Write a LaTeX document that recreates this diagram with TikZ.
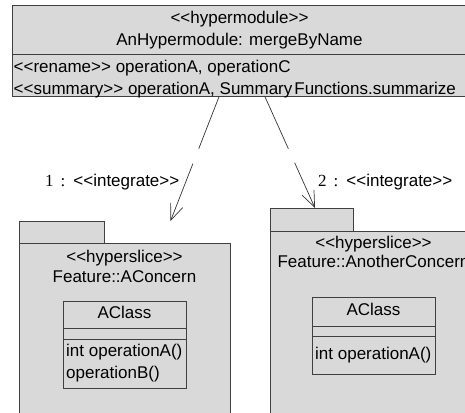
\documentclass[tikz,border=0pt]{standalone}
\usepackage{fontspec}
\newfontfamily\arialf{Liberation Sans}
\newfontfamily\timesf{Liberation Serif}
\usetikzlibrary{arrows.meta}
\definecolor{pkgfill}{RGB}{217,217,217}
\definecolor{edgec}{RGB}{64,64,64}
\begin{document}
\begin{tikzpicture}[x=1pt,y=-1pt,
  box/.style={draw=edgec, fill=pkgfill, line width=0.8pt, inner sep=0pt, anchor=north west},
  txt/.style={font=\arialf\fontsize{17}{20}\selectfont, inner sep=0pt, text height=12pt, text depth=3.5pt},
  dep/.style={draw=black!80, line width=0.7pt, -{Straight Barb[length=16pt,width=13pt]}}
]
\useasboundingbox (0,0) rectangle (465,412);
\clip (0,0) rectangle (465,412);

% hypermodule
\node[box, minimum width=456pt, minimum height=49pt] (hmhead) at (12,5) {};
\node[box, minimum width=456pt, minimum height=42pt] (hmops) at (12,54) {};
\node[txt] (hmst) at (239.5,19) {<<hypermodule>>};
\node[txt] (hmname) at (239.5,41) {AnHypermodule: mergeByName};
\node[txt, anchor=west] (hmr1) at (13.5,68) {<<rename>> operationA, operationC};
\node[txt, anchor=west] (hmr2) at (13.5,90) {<<summary>> operationA, Summary\hspace{2pt}Functions.summarize};

% left package
\node[box, minimum width=85pt, minimum height=22pt] (tabA) at (19,221) {};
\node[box, minimum width=211pt, minimum height=190pt] (pkgA) at (19,243) {};
\node[txt] (stA) at (124.5,258) {<<hyperslice>>};
\node[txt] (nmA) at (124.5,278) {Feature::AConcern};
\node[box, minimum width=123pt, minimum height=27pt] (cA1) at (63,301) {};
\node[box, minimum width=123pt, minimum height=11pt] (cA2) at (63,328) {};
\node[box, minimum width=123pt, minimum height=49pt] (cA3) at (63,339) {};
\node[txt] (cAn) at (124.5,314.5) {AClass};
\node[txt, anchor=west] (oA1) at (66,352) {int operationA()};
\node[txt, anchor=west] (oA2) at (66,374) {operationB()};

% right package
\node[box, minimum width=83pt, minimum height=23pt] (tabB) at (270,208) {};
\node[box, minimum width=207pt, minimum height=200pt] (pkgB) at (270,231) {};
\node[txt] (stB) at (373.5,244) {<<hyperslice>>};
\node[txt] (nmB) at (373.5,263) {Feature::AnotherConcern};
\node[box, minimum width=123pt, minimum height=29pt] (cB1) at (312,297) {};
\node[box, minimum width=123pt, minimum height=10pt] (cB2) at (312,326) {};
\node[box, minimum width=123pt, minimum height=38pt] (cB3) at (312,336) {};
\node[txt] (cBn) at (373.5,311.5) {AClass};
\node[txt, anchor=west] (oB1) at (315,355) {int operationA()};

% connectors
\coordinate (s1) at (hmops.south -| 219,0);
\coordinate (t1) at (170.5,221);
\coordinate (s2) at (hmops.south -| 265,0);
\coordinate (t2) at (tabB.north -| 315,0);
\draw[dep, dash pattern=on 55.7pt off 16pt on 500pt] (s1) -- (t1);
\draw[dep, dash pattern=on 57pt off 15.3pt on 500pt] (s2) -- (t2);

\node[txt, anchor=west] (lab1) at (45,182) {{\timesf 1\hspace{7pt}:\hspace{8pt}}<<integrate>>};
\node[txt, anchor=west] (lab2) at (318,182) {{\timesf 2\hspace{7pt}:\hspace{8pt}}<<integrate>>};
\end{tikzpicture}
\end{document}
